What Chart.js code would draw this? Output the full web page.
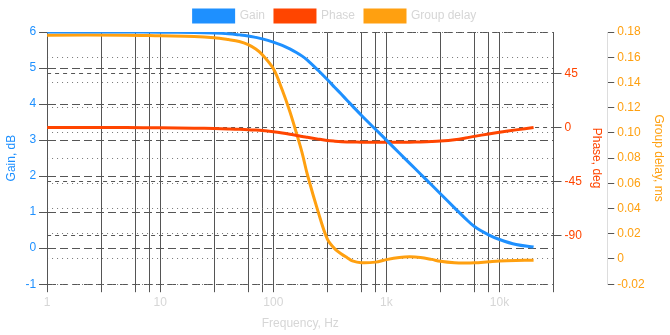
<!DOCTYPE html>
<html>
<head>
<meta charset="utf-8">
<script src="https://cdn.jsdelivr.net/npm/chart.js@4/dist/chart.umd.min.js"></script>
<style>
  html, body { margin: 0; padding: 0; background: #fff; }
  #wrap { width: 670px; height: 335px; }
</style>
</head>
<body>
<div id="wrap"><canvas id="chart"></canvas></div>
<script>
const GAIN_COLOR = "#1e90ff";
const PHASE_COLOR = "#ff4500";
const GD_COLOR = "#ffa010";
const LIGHT = "#d6d6d6";
const GRID = "#555";

// frequency points, Hz
const freqs = [
  1, 5, 10, 20, 30, 40, 50, 60, 70, 80, 100, 120, 140, 160, 180, 200, 250,
  300, 350, 400, 450, 500, 600, 800, 1000, 1300, 1600, 2000, 2500, 3000,
  4000, 5000, 6000, 8000, 10000, 14000, 20000,
];

// gain, dB
const gain = [
  6.0, 6.0, 5.995, 5.985, 5.97, 5.95, 5.92, 5.89, 5.85, 5.81, 5.72, 5.63,
  5.53, 5.43, 5.33, 5.22, 4.93, 4.68, 4.46, 4.27, 4.1, 3.95, 3.69, 3.3, 3.0,
  2.64, 2.36, 2.06, 1.76, 1.51, 1.12, 0.82, 0.6, 0.37, 0.24, 0.1, 0.03,
];

// phase, deg
const phase = [
  0, -0.1, -0.3, -0.6, -0.9, -1.2, -1.5, -1.9, -2.2, -2.6, -3.6, -4.6, -5.6,
  -6.6, -7.5, -8.2, -9.7, -10.8, -11.4, -11.8, -12.0, -12.1, -12.2, -12.3,
  -12.3, -12.3, -12.2, -12.0, -11.7, -11.3, -10.2, -8.8, -7.4, -5.4, -4.0,
  -2.0, 0,
];

// group delay, ms
const groupDelay = [
  0.1775, 0.1775, 0.177, 0.1765, 0.1755, 0.174, 0.1725, 0.17, 0.1665, 0.162,
  0.151, 0.134, 0.117, 0.1, 0.084, 0.067, 0.037, 0.016, 0.008, 0.004, 0.001,
  -0.0015, -0.003, -0.0025, -0.0005, 0.0012, 0.0017, 0.0012, -0.0003,
  -0.0018, -0.003, -0.0032, -0.003, -0.0022, -0.0016, -0.0012, -0.001,
];

// vertical grid lines on the frequency axis and the ones that get a label
const freqGrid = [
  1, 3, 6, 8, 10, 30, 60, 80, 100, 300, 600, 800, 1000, 3000, 6000, 8000,
  10000, 30000,
];
const freqLabels = { 1: "1", 10: "10", 100: "100", 1000: "1k", 10000: "10k" };

const phaseTicks = [-90, -45, 0, 45];

Chart.defaults.font.family = "'Liberation Sans', Arial, sans-serif";
Chart.defaults.font.size = 12;

const series = (label, values, color, axis) => ({
  label,
  data: freqs.map((f, i) => ({ x: f, y: values[i] })),
  borderColor: color,
  backgroundColor: color,
  borderWidth: 3,
  pointRadius: 0,
  tension: 0.35,
  fill: false,
  yAxisID: axis,
});

new Chart(document.getElementById("chart"), {
  type: "line",
  data: {
    datasets: [
      series("Gain", gain, GAIN_COLOR, "y"),
      series("Phase", phase, PHASE_COLOR, "y1"),
      series("Group delay", groupDelay, GD_COLOR, "y2"),
    ],
  },
  options: {
    responsive: true,
    maintainAspectRatio: false,
    animation: false,
    plugins: {
      legend: {
        labels: { color: LIGHT, boxWidth: 40 },
      },
      tooltip: { enabled: false },
    },
    scales: {
      x: {
        type: "logarithmic",
        min: 1,
        max: 30000,
        afterBuildTicks: (scale) => {
          scale.ticks = freqGrid.map((v) => ({ value: v }));
        },
        ticks: {
          autoSkip: false,
          maxRotation: 0,
          color: LIGHT,
          callback: (v) => freqLabels[v] || "",
        },
        grid: { color: GRID, tickColor: GRID, tickLength: 8 },
        border: { display: false },
        title: { display: true, text: "Frequency, Hz", color: LIGHT },
      },
      y: {
        position: "left",
        min: -1,
        max: 6,
        ticks: { stepSize: 1, color: GAIN_COLOR },
        grid: { color: GRID, tickColor: GRID, tickLength: 8 },
        border: { display: true, color: GRID, dash: [8, 4] },
        title: { display: true, text: "Gain, dB", color: GAIN_COLOR },
      },
      y1: {
        position: "right",
        min: -130.5,
        max: 79.5,
        afterBuildTicks: (scale) => {
          scale.ticks = phaseTicks.map((v) => ({ value: v }));
        },
        ticks: { color: PHASE_COLOR },
        grid: { color: GRID, tickColor: GRID, tickLength: 8 },
        border: { display: true, color: GRID, dash: [4, 4] },
        title: { display: true, text: "Phase, deg", color: PHASE_COLOR },
      },
      y2: {
        position: "right",
        min: -0.02,
        max: 0.18,
        ticks: {
          stepSize: 0.02,
          color: GD_COLOR,
          callback: (v) => (Math.abs(v) < 1e-9 ? "0" : v.toFixed(2)),
        },
        grid: { color: "#777", tickColor: GRID, tickLength: 7 },
        border: { display: true, color: "#ddd", dash: [1, 4] },
        title: { display: true, text: "Group delay, ms", color: GD_COLOR },
      },
    },
  },
});
</script>
</body>
</html>
